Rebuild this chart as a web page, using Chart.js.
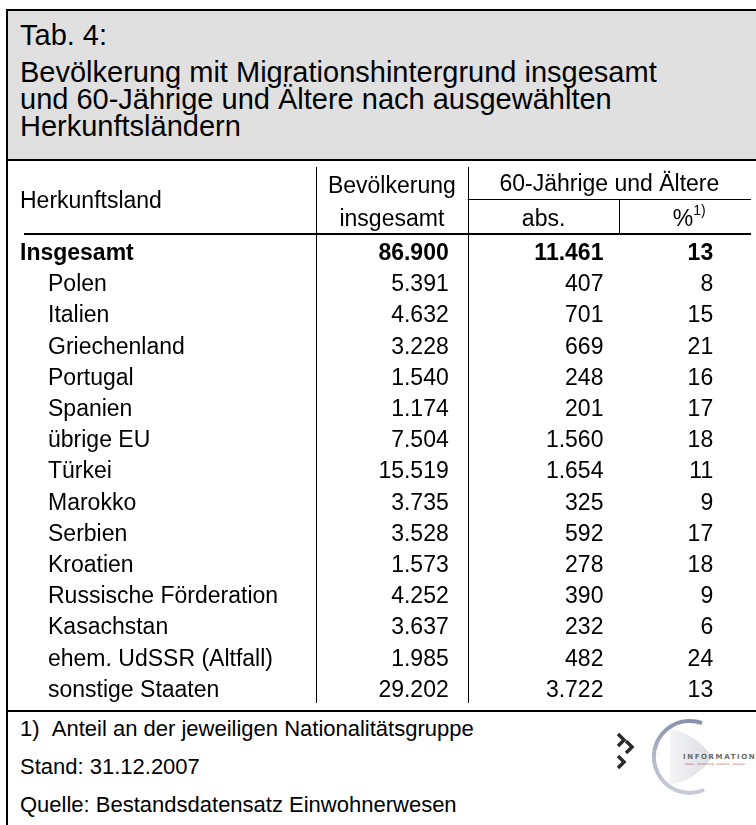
<!DOCTYPE html>
<html><head><meta charset="utf-8">
<script src="https://cdn.jsdelivr.net/npm/chart.js@4.4.1/dist/chart.umd.min.js"></script>
<style>
html,body{margin:0;padding:0;background:#fff;width:756px;height:825px;overflow:hidden;font-family:"Liberation Sans",Arial,sans-serif;color:#000}
#frame{position:absolute;left:6px;top:9px;width:800px;height:900px;border-left:2px solid #000;border-top:2px solid #000}
#head{position:absolute;left:8px;top:11px;width:800px;height:148px;background:#e0e0e0;border-bottom:2px solid #000}
.t{position:absolute;left:20px;font-size:29px;line-height:32px;white-space:nowrap}
#foot .f{position:absolute;left:20px;font-size:22px;line-height:26px;white-space:nowrap}
#footline{position:absolute;left:8px;top:710px;width:800px;height:2px;background:#000}
#chartbox{position:absolute;left:0;top:162px;width:756px;height:548px}
#logo{position:absolute;left:606px;top:715px}
</style></head>
<body>
<div id="frame"></div>
<div id="head"></div>
<div class="t" style="top:19px">Tab. 4:</div>
<div class="t" style="top:56px">Bevölkerung mit Migrationshintergrund insgesamt</div>
<div class="t" style="top:83px">und 60-Jährige und Ältere nach ausgewählten</div>
<div class="t" style="top:110px">Herkunftsländern</div>
<div id="chartbox"><canvas id="c" width="756" height="548"></canvas></div>
<div id="footline"></div>
<div id="foot">
<div class="f" style="top:716px">1)&nbsp;&nbsp;Anteil an der jeweiligen Nationalitätsgruppe</div>
<div class="f" style="top:754px">Stand: 31.12.2007</div>
<div class="f" style="top:792px">Quelle: Bestandsdatensatz Einwohnerwesen</div>
</div>
<svg id="logo" width="150" height="82" viewBox="0 0 150 82">
<defs><linearGradient id="g1" x1="0" y1="0" x2="0" y2="1"><stop offset="0" stop-color="#8a90ac"/><stop offset="0.5" stop-color="#b4b8c8"/><stop offset="1" stop-color="#c8ccd6"/></linearGradient>
<linearGradient id="g2" x1="0" y1="0" x2="1" y2="0"><stop offset="0" stop-color="#f4f4f6"/><stop offset="1" stop-color="#dcdde2"/></linearGradient></defs>
<path d="M96 8 A36 36 0 1 0 98 75" fill="none" stroke="url(#g1)" stroke-width="4"/>
<path d="M64 14 Q92 20 106 42 Q92 64 64 70 Z" fill="url(#g2)"/>
<path d="M12 19 l6 6 l-6 6" fill="none" stroke="#2a2a2a" stroke-width="3.5"/>
<path d="M20 26 l6 6 l-6 6" fill="none" stroke="#2a2a2a" stroke-width="3.5"/>
<path d="M12 41 l6 6 l-6 6" fill="none" stroke="#2a2a2a" stroke-width="3.5"/>
<text x="77" y="44" font-family="DejaVu Sans" font-weight="bold" font-size="7" letter-spacing="1.6" fill="#6a6a6a">INFORMATION</text>
<text x="77" y="50" font-family="DejaVu Sans" font-size="3.2" fill="#b07070">- daten - forschung - statistik - analyse -</text>
</svg>
<script>
const rows = ['Insgesamt','Polen','Italien','Griechenland','Portugal','Spanien','übrige EU','Türkei','Marokko','Serbien','Kroatien','Russische Förderation','Kasachstan','ehem. UdSSR (Altfall)','sonstige Staaten'];
const popTotal = [86900,5391,4632,3228,1540,1174,7504,15519,3735,3528,1573,4252,3637,1985,29202];
const age60abs = [11461,407,701,669,248,201,1560,1654,325,592,278,390,232,482,3722];
const age60pct = [13,8,15,21,16,17,18,11,9,17,18,9,6,24,13];
const rowHeader = 'Herkunftsland';
const colHeaders = [['Bevölkerung','insgesamt'],['abs.'],['%']];
const groupHeader = '60-Jährige und Ältere';
const footnoteMark = '1)';

function fmt(n){return String(n).replace(/\B(?=(\d{3})+(?!\d))/g,'.');}
const FONT='"Liberation Sans", Arial, sans-serif';
const FS=23;
const colPad=[19,16,58];

const tablePlugin={
 id:'tablePlugin',
 afterDatasetsDraw(chart){
  const ctx=chart.ctx, x=chart.scales.x, y=chart.scales.y, a=chart.chartArea;
  ctx.save();
  ctx.fillStyle='#000'; ctx.strokeStyle='#000'; ctx.lineWidth=1;
  const x0=x.getPixelForValue(0), x1=x.getPixelForValue(1), x2=x.getPixelForValue(2);
  const hb=a.top-4;
  ctx.beginPath();
  ctx.moveTo(Math.round(x0)+0.5,5); ctx.lineTo(Math.round(x0)+0.5,a.bottom-3);
  ctx.moveTo(Math.round(x1)+0.5,5); ctx.lineTo(Math.round(x1)+0.5,a.bottom-3);
  ctx.moveTo(Math.round(x2)+0.5,37); ctx.lineTo(Math.round(x2)+0.5,hb);
  ctx.moveTo(x1,37.5); ctx.lineTo(751,37.5);
  ctx.stroke();
  ctx.lineWidth=2;
  ctx.beginPath(); ctx.moveTo(24,hb); ctx.lineTo(751,hb); ctx.stroke();
  ctx.textBaseline='middle';
  ctx.font=FS+'px '+FONT;
  ctx.textAlign='left';
  ctx.fillText(rowHeader,20,40);
  ctx.textAlign='center';
  const c0=(x0+x1)/2;
  ctx.fillText(colHeaders[0][0],c0,25);
  ctx.fillText(colHeaders[0][1],c0,58);
  ctx.fillText(groupHeader,(x1+751)/2,23);
  ctx.fillText(colHeaders[1][0],(x1+x2)/2,58);
  const pw=ctx.measureText(colHeaders[2][0]).width;
  ctx.font='14px '+FONT; const sw=ctx.measureText(footnoteMark).width;
  const pc=(x2+751)/2+4, ps=pc-(pw+sw)/2;
  ctx.textAlign='left';
  ctx.font=FS+'px '+FONT; ctx.fillText(colHeaders[2][0],ps,58);
  ctx.font='14px '+FONT; ctx.fillText(footnoteMark,ps+pw,49);
  rows.forEach((r,i)=>{
   const py=y.getPixelForValue(i);
   ctx.font=(i===0?'bold ':'')+FS+'px '+FONT;
   ctx.textAlign='left';
   ctx.fillText(r,i===0?20:48,py);
  });
  chart.data.datasets.forEach((ds,di)=>{
   const meta=chart.getDatasetMeta(di);
   meta.data.forEach((el,i)=>{
    const raw=ds.data[i];
    ctx.font=(i===0?'bold ':'')+FS+'px '+FONT;
    ctx.textAlign='right';
    ctx.fillText(fmt(raw.v),x.getPixelForValue(raw.x+1)-colPad[di],el.y);
   });
  });
  ctx.restore();
 }
};

const series=[popTotal,age60abs,age60pct];
new Chart(document.getElementById('c'),{
 type:'scatter',
 data:{datasets:series.map((s,ci)=>({label:'c'+ci,data:s.map((v,i)=>({x:ci,y:rows[i],v:v})),pointRadius:0,pointHoverRadius:0}))},
 options:{
  responsive:false,animation:false,events:[],
  layout:{padding:{left:316,right:0,top:76,bottom:4}},
  plugins:{legend:{display:false},tooltip:{enabled:false},title:{display:false}},
  scales:{
   x:{type:'linear',min:0,max:2.9,display:false},
   y:{type:'category',labels:rows,offset:true,display:false}
  }
 },
 plugins:[tablePlugin]
});
</script>
</body></html>
